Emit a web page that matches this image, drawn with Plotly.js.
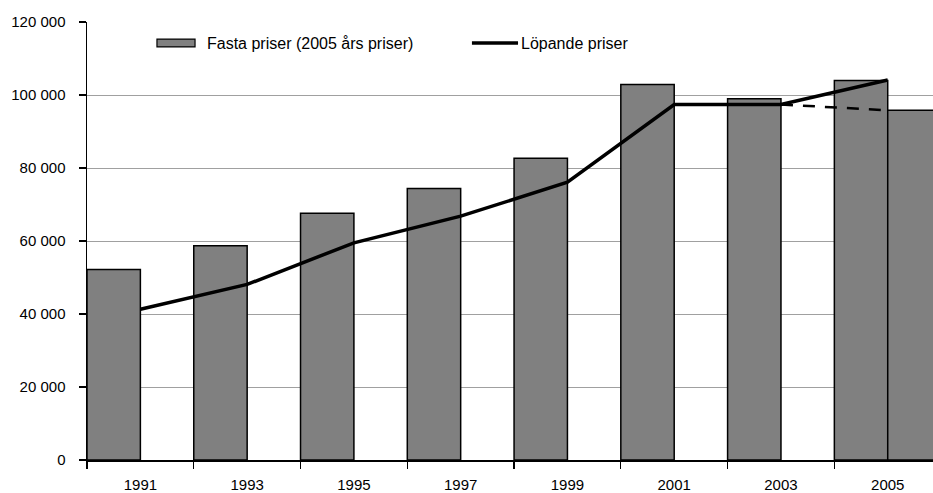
<!DOCTYPE html>
<html>
<head>
<meta charset="utf-8">
<script src="https://cdn.plot.ly/plotly-3.0.1.min.js"></script>
<style>html,body{margin:0;padding:0;background:#fff;}#chart{width:933px;height:493px;}</style>
</head>
<body>
<div id="chart"></div>
<script>
const years = ['1991','1993','1995','1997','1999','2001','2003','2005'];
const fasta = [52200, 58700, 67600, 74400, 82700, 102900, 99000, 104000];
const lopande = [41300, 48100, 59500, 66800, 76100, 97400, 97400, 104100];
const fastaExtra = 95800;
const nameFasta = 'Fasta priser (2005 års priser)';
const nameLopande = 'Löpande priser';

const idx = years.map((_, i) => i);
const barX = idx.map(i => i - 0.25).concat([idx.length - 1 + 0.25]);
const barY = fasta.concat([fastaExtra]);

const FONT = 'Liberation Sans, Arial, sans-serif';

const traces = [
  {type:'bar', x:barX, y:barY, width:0.5, name:nameFasta,
   marker:{color:'#808080', line:{color:'#000', width:1.5}}, showlegend:false, hoverinfo:'y'},
  {type:'scatter', mode:'lines', x:[idx.length-2, idx.length-1], y:[lopande[lopande.length-2], fastaExtra],
   line:{color:'#000', width:2.5, dash:'12px,10px'}, showlegend:false, hoverinfo:'y'},
  {type:'scatter', mode:'lines', x:idx, y:lopande, name:nameLopande,
   line:{color:'#000', width:3.5}, showlegend:false, hoverinfo:'y'}
];

const layout = {
  width:933, height:493,
  margin:{l:87, r:0, t:22, b:33},
  paper_bgcolor:'#fff', plot_bgcolor:'#fff',
  separators:', ',
  font:{family:FONT, size:15, color:'#000'},
  showlegend:false,
  xaxis:{range:[-0.5, 7.424], tickvals:idx, ticktext:years, ticks:'',
    showgrid:false, zeroline:false, showline:true, linecolor:'#000', linewidth:1.5,
    ticklabelstandoff:10,
    minor:{tick0:-0.5, dtick:1, ticks:'outside', ticklen:7, tickcolor:'#000', tickwidth:1.2, showgrid:false},
    tickfont:{family:FONT, size:15, color:'#000'}},
  yaxis:{range:[0,120000], dtick:20000, tickformat:',d', ticks:'outside', ticklen:7,
    tickcolor:'#000', tickwidth:1.2, showline:true, linecolor:'#000', linewidth:1.5,
    gridcolor:'#a0a0a0', gridwidth:1, zeroline:false, ticklabelstandoff:10,
    tickfont:{family:FONT, size:15, color:'#000'}},
  shapes:[
    {type:'rect', xref:'paper', yref:'paper', x0:0.0827, x1:0.1277, y0:0.943, y1:0.961,
     fillcolor:'#808080', line:{color:'#000', width:1.2}},
    {type:'line', xref:'paper', yref:'paper', x0:0.455, x1:0.5095, y0:0.952, y1:0.952,
     line:{color:'#000', width:3.5}}
  ],
  annotations:[
    {xref:'paper', yref:'paper', x:0.1395, y:0.952, xanchor:'left', yanchor:'middle',
     text:nameFasta, showarrow:false, font:{family:FONT, size:16, color:'#000'}},
    {xref:'paper', yref:'paper', x:0.511, y:0.952, xanchor:'left', yanchor:'middle',
     text:nameLopande, showarrow:false, font:{family:FONT, size:16, color:'#000'}}
  ]
};

Plotly.newPlot('chart', traces, layout, {displayModeBar:false, staticPlot:true});
</script>
</body>
</html>
